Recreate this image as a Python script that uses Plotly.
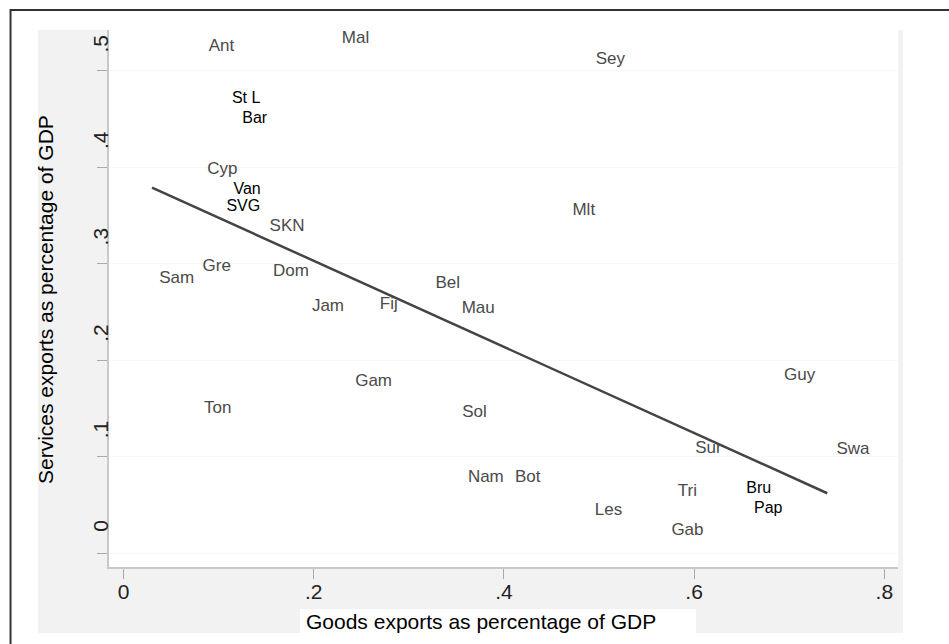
import plotly.graph_objects as go

# Country labels (grey, scanned style)
grey_labels = ["Ant", "Mal", "Sey", "Cyp", "Mlt", "SKN", "Gre", "Sam", "Dom", "Bel",
               "Jam", "Fij", "Mau", "Gam", "Ton", "Sol", "Guy", "Sur", "Swa", "Nam",
               "Bot", "Tri", "Les", "Gab"]
grey_goods = [0.103, 0.244, 0.512, 0.104, 0.484, 0.172, 0.098, 0.056, 0.176, 0.341,
              0.215, 0.279, 0.373, 0.263, 0.099, 0.369, 0.711, 0.615, 0.767, 0.381,
              0.425, 0.593, 0.510, 0.593]
grey_services = [0.525, 0.533, 0.512, 0.398, 0.355, 0.338, 0.297, 0.285, 0.292, 0.279,
                 0.255, 0.258, 0.253, 0.178, 0.150, 0.145, 0.184, 0.108, 0.107, 0.078,
                 0.078, 0.064, 0.044, 0.023]

# Country labels (black)
black_labels = ["St L", "Bar", "Van", "SVG", "Bru", "Pap"]
black_goods = [0.129, 0.138, 0.130, 0.126, 0.668, 0.678]
black_services = [0.471, 0.450, 0.377, 0.359, 0.066, 0.046]

# Fitted line end points
fit_goods = [0.030, 0.740]
fit_services = [0.379, 0.062]

x_ticks = [0, 0.2, 0.4, 0.6, 0.8]
x_ticktext = ["0", ".2", ".4", ".6", ".8"]
y_ticks = [0, 0.1, 0.2, 0.3, 0.4, 0.5]
y_ticktext = ["0", ".1", ".2", ".3", ".4", ".5"]

FONT = "Liberation Sans, Arial, Helvetica, sans-serif"

fig = go.Figure()
fig.add_trace(go.Scatter(x=fit_goods, y=fit_services, mode="lines",
                         line=dict(color="#444444", width=2.5), hoverinfo="skip"))
fig.add_trace(go.Scatter(x=grey_goods, y=grey_services, mode="text", text=grey_labels,
                         textposition="middle center",
                         textfont=dict(family=FONT, size=17, color="#4a4a4a")))
fig.add_trace(go.Scatter(x=black_goods, y=black_services, mode="text", text=black_labels,
                         textposition="middle center",
                         textfont=dict(family=FONT, size=16, color="#000000")))

shapes = [
    # grey graph region
    dict(type="rect", xref="paper", yref="paper", x0=-0.09, x1=1.0063, y0=-0.1229, y1=1.0,
         fillcolor="#f2f2f2", line=dict(width=0), layer="below"),
    # white plot region
    dict(type="rect", xref="paper", yref="paper", x0=0, x1=1, y0=0, y1=1,
         fillcolor="#ffffff", line=dict(width=0), layer="below"),
    # white box behind x title
    dict(type="rect", xref="paper", yref="paper", x0=0.2421, x1=0.744, y0=-0.1229, y1=-0.0782,
         fillcolor="#ffffff", line=dict(width=0), layer="below"),
    # outer frame
    dict(type="rect", xref="paper", yref="paper", x0=-0.1248, x1=1.2, y0=-0.3, y1=1.0372,
         fillcolor="rgba(0,0,0,0)", line=dict(color="#333333", width=2), layer="above"),
]

annotations = [
    dict(text="Goods exports as percentage of GDP", xref="paper", yref="paper",
         x=0.4715, y=-0.1006, xanchor="center", yanchor="middle", showarrow=False,
         font=dict(family=FONT, size=21, color="#000000")),
    dict(text="Services exports as percentage of GDP", xref="paper", yref="paper",
         x=-0.0811, y=0.4972, xanchor="center", yanchor="middle", showarrow=False,
         textangle=-90, font=dict(family=FONT, size=21, color="#000000")),
]

fig.update_layout(
    width=949, height=644,
    margin=dict(l=109, r=51, t=30, b=77),
    paper_bgcolor="#ffffff", plot_bgcolor="#ffffff",
    showlegend=False, hovermode=False,
    shapes=shapes, annotations=annotations,
    xaxis=dict(range=[-0.01525, 0.8144], tickvals=x_ticks, ticktext=x_ticktext,
               showgrid=False, zeroline=False, showline=True, linecolor="#c8c8c8",
               linewidth=1.5, ticks="outside", ticklen=10, tickcolor="#aaaaaa", tickwidth=1,
               ticklabelstandoff=-5,
               tickfont=dict(family=FONT, size=21, color="#222222")),
    yaxis=dict(range=[-0.0145, 0.5425], tickvals=y_ticks, ticktext=y_ticktext,
               showgrid=True, gridcolor="#f8f8f8", gridwidth=1,
               zeroline=False, showline=True, linecolor="#c8c8c8",
               linewidth=1.5, ticks="outside", ticklen=10, tickcolor="#aaaaaa", tickwidth=1,
               tickangle=-90, ticklabelshift=-24, ticklabelstandoff=-19,
               tickfont=dict(family=FONT, size=21, color="#222222")),
)

fig.write_html("out.html")
